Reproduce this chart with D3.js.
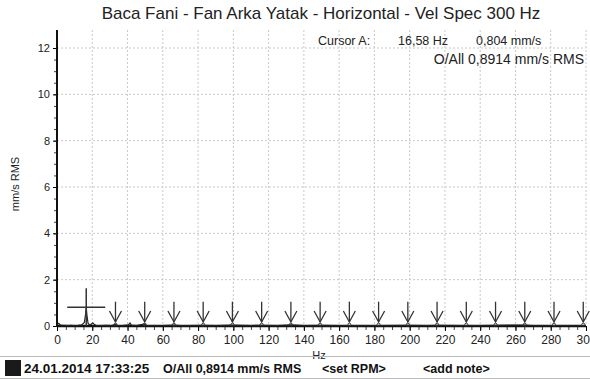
<!DOCTYPE html>
<html>
<head>
<meta charset="utf-8">
<script src="https://cdn.jsdelivr.net/npm/d3@7"></script>
<style>
  body { margin: 0; background: #fff; }
  svg { font-family: "Liberation Sans", Arial, sans-serif; display: block; }
  .grid line { stroke: #c8c8c8; stroke-dasharray: 2,2; }
</style>
</head>
<body>
<svg id="chart"></svg>
<script>
// Spectrum (Hz, mm/s RMS)
const spectrumHz  = [0, 1, 2, 4, 6, 8, 10, 12, 14, 15.5, 16.2, 16.58, 17, 17.6, 18.5, 19.5, 20.3, 21, 22, 25, 28, 31, 33.2, 34, 37, 40.5, 41.4, 42.2, 45, 49.7, 50.5, 55, 60, 66.3, 70, 75, 82.9, 90, 99.5, 110, 116, 125, 132.6, 140, 149.2, 160, 170, 182.4, 199, 210, 215.5, 230, 240, 248.7, 265.3, 270, 280, 290, 300];
const spectrumAmp = [0.05, 0.12, 0.04, 0.03, 0.02, 0.03, 0.02, 0.03, 0.05, 0.15, 0.5, 0.804, 0.45, 0.12, 0.04, 0.08, 0.14, 0.08, 0.03, 0.02, 0.03, 0.02, 0.07, 0.03, 0.02, 0.05, 0.13, 0.04, 0.02, 0.09, 0.03, 0.02, 0.02, 0.04, 0.02, 0.02, 0.03, 0.02, 0.04, 0.02, 0.03, 0.02, 0.05, 0.02, 0.03, 0.02, 0.02, 0.02, 0.03, 0.02, 0.03, 0.02, 0.02, 0.03, 0.04, 0.02, 0.02, 0.02, 0.02];

// Harmonic markers of the cursor frequency (2x .. 18x of 16.58 Hz)
const harmonicHz = [33.16, 49.74, 66.32, 82.9, 99.48, 116.06, 132.64, 149.22, 165.8, 182.38, 198.96, 215.54, 232.12, 248.7, 265.28, 281.86, 298.44];

const cursorHz = 16.58;
const cursorAmp = 0.804;

const xTicks = [0, 20, 40, 60, 80, 100, 120, 140, 160, 180, 200, 220, 240, 260, 280, 300];
const yTicks = [0, 2, 4, 6, 8, 10, 12];

const title = "Baca Fani - Fan Arka Yatak - Horizontal - Vel Spec 300 Hz";
const footer = ["24.01.2014 17:33:25", "O/All 0,8914 mm/s RMS", "<set RPM>", "<add note>"];

const width = 590, height = 379;
const margin = { top: 30, right: 4, bottom: 53, left: 57 };

const svg = d3.select("#chart").attr("width", width).attr("height", height);

const x = d3.scaleLinear().domain([0, 300]).range([margin.left, width - margin.right]);
const y = d3.scaleLinear().domain([0, 12]).range([height - margin.bottom, 48]);

// grid
let grid = svg.append("g").attr("class", "grid");
grid.selectAll(".gx").data(xTicks.slice(1)).join("line")
    .attr("x1", d => x(d)).attr("x2", d => x(d))
    .attr("y1", margin.top).attr("y2", y(0));
grid.selectAll(".gy").data(yTicks.slice(1)).join("line")
    .attr("x1", x(0)).attr("x2", x(300))
    .attr("y1", d => y(d)).attr("y2", d => y(d));

// title
svg.append("text")
    .attr("x", 321).attr("y", 19)
    .attr("text-anchor", "middle")
    .attr("font-size", 17).attr("fill", "#222")
    .text(title);

// cursor readout
let info = svg.append("g").attr("font-size", 12.5).attr("fill", "#222");
info.append("text").attr("x", 318).attr("y", 45).text("Cursor A:");
info.append("text").attr("x", 398).attr("y", 45).text("16,58 Hz");
info.append("text").attr("x", 476).attr("y", 45).text("0,804 mm/s");
info.append("text").attr("x", 584).attr("y", 64).attr("text-anchor", "end").attr("font-size", 14).text("O/All 0,8914 mm/s RMS");

// axes
let yAxis = g => g
    .attr("transform", `translate(${x(0)},0)`)
    .call(d3.axisLeft(y).tickValues(yTicks).tickSize(4).tickFormat(d3.format("d")))
    .call(g => g.select(".domain").remove())
    .call(g => g.selectAll("text").attr("font-size", 11).attr("fill", "#222"));

let yMinor = g => g
    .attr("transform", `translate(${x(0)},0)`)
    .call(d3.axisLeft(y).ticks(24).tickSize(3).tickFormat(""))
    .call(g => g.select(".domain").remove())
    .call(g => g.selectAll("line").attr("stroke", "#444"));

let xAxis = g => g
    .attr("transform", `translate(0,${y(0)})`)
    .call(d3.axisBottom(x).tickValues(xTicks).tickSize(5).tickPadding(4))
    .call(g => g.select(".domain").remove())
    .call(g => g.selectAll("text").attr("font-size", 12).attr("fill", "#222"));

let xMinor = g => g
    .attr("transform", `translate(0,${y(0)})`)
    .call(d3.axisBottom(x).ticks(60).tickSize(4).tickFormat(""))
    .call(g => g.select(".domain").remove())
    .call(g => g.selectAll("line").attr("stroke", "#444"));

svg.append("g").call(yMinor);
svg.append("g").call(yAxis);
svg.append("g").call(xMinor);
svg.append("g").call(xAxis);

svg.append("line")
    .attr("x1", x(0)).attr("x2", x(0))
    .attr("y1", margin.top).attr("y2", y(0) + 1)
    .attr("stroke", "#111").attr("stroke-width", 2);
svg.append("line")
    .attr("x1", x(0)).attr("x2", x(300))
    .attr("y1", y(0)).attr("y2", y(0))
    .attr("stroke", "#111").attr("stroke-width", 2.5);

// axis titles
svg.append("text")
    .attr("transform", `translate(19,${(y(0) + y(12)) / 2 - 3}) rotate(-90)`)
    .attr("text-anchor", "middle").attr("font-size", 11).attr("fill", "#222")
    .text("mm/s RMS");
svg.append("text")
    .attr("x", 319).attr("y", 359)
    .attr("text-anchor", "middle").attr("font-size", 11).attr("fill", "#222")
    .text("Hz");

// spectrum
let spectrum = spectrumHz.map((h, i) => [h, spectrumAmp[i]]);
svg.append("path")
    .datum(spectrum)
    .attr("fill", "none").attr("stroke", "#222").attr("stroke-width", 1.2)
    .attr("d", d3.line().x(d => x(d[0])).y(d => y(d[1])));

// harmonic arrows
let arrows = svg.append("g").attr("stroke", "#333").attr("stroke-width", 1.3).attr("fill", "none");
arrows.selectAll("g").data(harmonicHz).join("g")
    .attr("transform", d => `translate(${x(d)},0)`)
    .call(g => g.append("line").attr("y1", y(1.05)).attr("y2", y(0) - 4))
    .call(g => g.append("path").attr("d", `M-6,${y(0) - 15}L0,${y(0) - 4}L6,${y(0) - 15}`))
    .call(g => g.append("circle").attr("cy", y(0.06)).attr("r", 1.5).attr("stroke-width", 1));

// cursor crosshair
let cross = svg.append("g").attr("stroke", "#333").attr("stroke-width", 1.5);
cross.append("line")
    .attr("x1", x(cursorHz) - 19).attr("x2", x(cursorHz) + 19)
    .attr("y1", y(cursorAmp)).attr("y2", y(cursorAmp));
cross.append("line")
    .attr("x1", x(cursorHz)).attr("x2", x(cursorHz))
    .attr("y1", y(cursorAmp) - 19).attr("y2", y(0));

// footer
svg.append("line").attr("x1", 0).attr("x2", width).attr("y1", 356.5).attr("y2", 356.5).attr("stroke", "#bbb");
svg.append("line").attr("x1", 0).attr("x2", width).attr("y1", 378.5).attr("y2", 378.5).attr("stroke", "#bbb");
svg.append("rect").attr("x", 5).attr("y", 360).attr("width", 16).attr("height", 16).attr("fill", "#1a1a1a");
let foot = svg.append("g").attr("font-size", 12.5).attr("font-weight", "bold").attr("fill", "#111");
const footX = [24, 163, 322, 423];
foot.selectAll("text").data(footer).join("text")
    .attr("x", (d, i) => footX[i]).attr("y", 373)
    .attr("font-size", (d, i) => i === 0 ? 13.5 : 12.5)
    .text(d => d);
</script>
</body>
</html>
